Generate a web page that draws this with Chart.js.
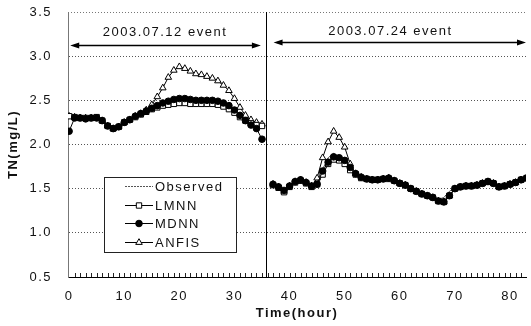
<!DOCTYPE html>
<html lang="en">
<head>
<meta charset="UTF-8">
<title>TN time series</title>
<script src="https://cdn.jsdelivr.net/npm/chart.js"></script>
<style>
  html, body { margin: 0; padding: 0; background: #fff; }
  #wrap { width: 531px; height: 326px; }
</style>
</head>
<body>
<div id="wrap"><canvas id="tnChart" width="531" height="326"></canvas></div>
<script>
// hours of both events (36 = break between the two events)
const hours = [0,1,2,3,4,5,6,7,8,9,10,11,12,13,14,15,16,17,18,19,20,21,22,23,24,25,26,27,28,29,30,31,32,33,34,35,
  36,
  37,38,39,40,41,42,43,44,45,46,47,48,49,50,51,52,53,54,55,56,57,58,59,60,61,62,63,64,65,66,67,68,69,70,71,72,73,74,75,76,77,78,79,80,81,82,83];

const observed = [2.31,2.31,2.30,2.29,2.30,2.30,2.28,2.22,2.19,2.20,2.25,2.28,2.31,2.34,2.37,2.40,2.42,2.44,2.46,2.47,2.48,2.48,2.47,2.47,2.47,2.47,2.47,2.46,2.44,2.41,2.37,2.32,2.27,2.24,2.21,2.19,
  null,
  1.55,1.52,1.47,1.53,1.58,1.60,1.57,1.53,1.57,1.72,1.85,1.90,1.86,1.80,1.72,1.66,1.63,1.61,1.60,1.60,1.61,1.62,1.60,1.57,1.55,1.51,1.47,1.45,1.43,1.41,1.38,1.40,1.47,1.51,1.52,1.53,1.53,1.54,1.56,1.58,1.56,1.52,1.53,1.55,1.57,1.60,1.62];

const lmnn = [2.32,2.31,2.30,2.30,2.30,2.31,2.27,2.21,2.18,2.20,2.25,2.28,2.31,2.34,2.37,2.40,2.42,2.44,2.45,2.46,2.47,2.47,2.46,2.46,2.46,2.46,2.46,2.45,2.43,2.40,2.36,2.31,2.27,2.24,2.22,2.21,
  null,
  1.54,1.51,1.46,1.52,1.57,1.59,1.56,1.52,1.55,1.66,1.78,1.83,1.82,1.78,1.71,1.66,1.62,1.61,1.60,1.60,1.61,1.61,1.59,1.56,1.54,1.50,1.47,1.44,1.42,1.40,1.36,1.35,1.42,1.50,1.52,1.53,1.53,1.54,1.56,1.58,1.56,1.52,1.53,1.55,1.57,1.60,1.62];

const mdnn = [2.15,2.30,2.30,2.29,2.30,2.30,2.27,2.21,2.18,2.20,2.25,2.28,2.32,2.35,2.38,2.41,2.44,2.47,2.49,2.51,2.52,2.52,2.51,2.50,2.50,2.50,2.50,2.49,2.47,2.44,2.39,2.33,2.27,2.22,2.18,2.06,
  null,
  1.55,1.52,1.48,1.53,1.58,1.60,1.57,1.53,1.55,1.70,1.80,1.86,1.85,1.82,1.74,1.67,1.63,1.61,1.60,1.60,1.61,1.62,1.59,1.56,1.54,1.50,1.47,1.44,1.42,1.40,1.36,1.35,1.42,1.50,1.52,1.53,1.53,1.54,1.56,1.58,1.56,1.52,1.53,1.55,1.57,1.60,1.62];

const anfis = [2.32,2.31,2.30,2.30,2.30,2.30,2.27,2.21,2.18,2.20,2.25,2.28,2.32,2.35,2.39,2.45,2.54,2.64,2.76,2.84,2.88,2.86,2.83,2.80,2.79,2.77,2.75,2.72,2.67,2.61,2.52,2.42,2.33,2.28,2.25,2.23,
  null,
  1.55,1.52,1.47,1.53,1.58,1.60,1.57,1.53,1.62,1.85,2.03,2.15,2.08,1.97,1.78,1.67,1.63,1.61,1.60,1.60,1.61,1.62,1.59,1.56,1.54,1.50,1.47,1.44,1.42,1.40,1.36,1.35,1.42,1.50,1.52,1.53,1.53,1.54,1.56,1.58,1.56,1.52,1.53,1.55,1.57,1.60,1.62];

const yTicks = [0.5, 1.0, 1.5, 2.0, 2.5, 3.0, 3.5];
const xTicks = [0, 10, 20, 30, 40, 50, 60, 70, 80];
const events = ['2003.07.12 event', '2003.07.24 event'];

const FONT = '"Liberation Sans", Arial, sans-serif';
const SPACING = '1.5px';

function pts(vals) {
  return hours.map((h, i) => ({ x: h, y: vals[i] }));
}

// extra drawing: frame, minor ticks, event split, arrows, legend box
const decorations = {
  id: 'decorations',
  beforeLayout(chart) { chart.ctx.letterSpacing = SPACING; },
  beforeDraw(chart) { chart.ctx.letterSpacing = SPACING; },
  afterDraw(chart) {
    const ctx = chart.ctx;
    const x = chart.scales.x, y = chart.scales.y;
    const a = chart.chartArea;
    ctx.save();

    // dotted top line
    ctx.strokeStyle = '#777';
    ctx.lineWidth = 1;
    ctx.setLineDash([1, 2]);
    ctx.beginPath();
    ctx.moveTo(a.left, Math.round(y.getPixelForValue(3.5)) + 0.5);
    ctx.lineTo(a.right, Math.round(y.getPixelForValue(3.5)) + 0.5);
    ctx.stroke();
    ctx.setLineDash([]);

    // minor ticks along the bottom, every hour
    ctx.strokeStyle = '#222';
    ctx.beginPath();
    for (let h = 1; h <= 82; h++) {
      const px = Math.round(x.getPixelForValue(h)) + 0.5;
      ctx.moveTo(px, a.bottom);
      ctx.lineTo(px, a.bottom - 4);
    }
    ctx.stroke();

    // split between the two events
    const sx = Math.round(x.getPixelForValue(35.7)) + 0.5;
    ctx.strokeStyle = '#000';
    ctx.beginPath();
    ctx.moveTo(sx, a.top);
    ctx.lineTo(sx, a.bottom);
    ctx.stroke();

    // double arrows with labels
    function arrow(h0, h1, v) {
      const x0 = x.getPixelForValue(h0), x1 = x.getPixelForValue(h1);
      const py = Math.round(y.getPixelForValue(v)) + 0.5;
      ctx.strokeStyle = '#000';
      ctx.fillStyle = '#000';
      ctx.lineWidth = 1.5;
      ctx.beginPath();
      ctx.moveTo(x0 + 4, py);
      ctx.lineTo(x1 - 4, py);
      ctx.stroke();
      ctx.beginPath();
      ctx.moveTo(x0, py); ctx.lineTo(x0 + 9, py - 3); ctx.lineTo(x0 + 9, py + 3); ctx.closePath();
      ctx.moveTo(x1, py); ctx.lineTo(x1 - 9, py - 3); ctx.lineTo(x1 - 9, py + 3); ctx.closePath();
      ctx.fill();
    }
    arrow(0.2, 34.8, 3.125);
    arrow(37.1, 82.9, 3.16);

    ctx.letterSpacing = SPACING;
    ctx.font = '13px ' + FONT;
    ctx.fillStyle = '#111';
    ctx.textAlign = 'center';
    ctx.textBaseline = 'middle';
    ctx.fillText(events[0], x.getPixelForValue(17.4), y.getPixelForValue(3.27));
    ctx.fillText(events[1], x.getPixelForValue(58.3), y.getPixelForValue(3.285));

    // legend box inside the plot
    const bx = 104.5, by = 177.5, bw = 132, bh = 75;
    ctx.fillStyle = '#fff';
    ctx.fillRect(bx, by, bw, bh);
    ctx.strokeStyle = '#222';
    ctx.lineWidth = 1;
    ctx.strokeRect(bx, by, bw, bh);
    const rows = [186.5, 205.5, 223.5, 242.5];
    chart.data.datasets.forEach((ds, i) => {
      const ry = rows[i];
      ctx.strokeStyle = ds.borderColor;
      ctx.lineWidth = ds.borderWidth;
      ctx.setLineDash(i === 0 ? [2, 1] : []);
      ctx.beginPath();
      ctx.moveTo(125, ry);
      ctx.lineTo(153, ry);
      ctx.stroke();
      ctx.setLineDash([]);
      if (ds.pointRadius > 0) {
        ctx.fillStyle = ds.pointBackgroundColor;
        ctx.strokeStyle = ds.pointBorderColor;
        ctx.lineWidth = ds.pointBorderWidth;
        Chart.helpers.drawPoint(ctx, {
          pointStyle: ds.pointStyle,
          radius: ds.pointRadius,
          borderWidth: ds.pointBorderWidth
        }, 139, ry);
      }
      ctx.fillStyle = '#111';
      ctx.textAlign = 'left';
      ctx.fillText(ds.label, 155, ry + 0.5);
    });
    ctx.restore();
  }
};

const chart = new Chart(document.getElementById('tnChart'), {
  type: 'line',
  data: {
    datasets: [
      {
        label: 'Observed',
        data: pts(observed),
        borderColor: '#555',
        borderWidth: 1,
        pointRadius: 0,
        order: 3
      },
      {
        label: 'LMNN',
        data: pts(lmnn),
        borderColor: '#000',
        borderWidth: 1,
        pointStyle: 'rect',
        pointRadius: 3.8,
        pointBorderWidth: 1,
        pointBorderColor: '#000',
        pointBackgroundColor: '#fff',
        order: 1
      },
      {
        label: 'MDNN',
        data: pts(mdnn),
        borderColor: '#000',
        borderWidth: 1,
        pointStyle: 'circle',
        pointRadius: 3.3,
        pointBorderWidth: 1,
        pointBorderColor: '#000',
        pointBackgroundColor: '#000',
        order: 0
      },
      {
        label: 'ANFIS',
        data: pts(anfis),
        borderColor: '#000',
        borderWidth: 1,
        pointStyle: 'triangle',
        pointRadius: 3.8,
        pointBorderWidth: 1,
        pointBorderColor: '#000',
        pointBackgroundColor: '#fff',
        order: 2
      }
    ]
  },
  options: {
    responsive: false,
    animation: false,
    spanGaps: false,
    layout: { padding: { top: 12, right: 0, left: 0, bottom: 0 } },
    plugins: {
      legend: { display: false },
      tooltip: { enabled: false }
    },
    scales: {
      x: {
        type: 'linear',
        min: -0.2,
        max: 82.9,
        afterFit(scale) { scale.height = 49; },
        afterBuildTicks(scale) { scale.ticks = xTicks.map(v => ({ value: v })); },
        ticks: { font: { family: FONT, size: 13 }, color: '#111', padding: 12, maxRotation: 0 },
        grid: { drawOnChartArea: false, drawTicks: false },
        border: { display: true, color: '#000', width: 1 },
        title: {
          display: true,
          text: 'Time(hour)',
          font: { family: FONT, size: 13, weight: 'bold' },
          color: '#111',
          padding: { top: 0, bottom: 5 }
        }
      },
      y: {
        min: 0.5,
        max: 3.5,
        afterFit(scale) {
          scale.width = 68;
          scale.paddingTop = 0;
          scale.paddingBottom = 0;
        },
        afterBuildTicks(scale) { scale.ticks = yTicks.map(v => ({ value: v })); },
        ticks: {
          font: { family: FONT, size: 13 },
          color: '#111',
          padding: 16,
          callback: v => v.toFixed(1)
        },
        grid: {
          drawTicks: false,
          color: c => (c.tick && (c.tick.value === 0.5 || c.tick.value === 3.5)) ? 'rgba(0,0,0,0)' : '#555',
          lineWidth: 1
        },
        border: { display: true, color: '#777', width: 1, dash: [1, 2] },
        title: {
          display: true,
          text: 'TN(mg/L)',
          font: { family: FONT, size: 13, weight: 'bold' },
          color: '#111',
          padding: { top: 6, bottom: 0 }
        }
      }
    }
  },
  plugins: [decorations]
});
</script>
</body>
</html>
